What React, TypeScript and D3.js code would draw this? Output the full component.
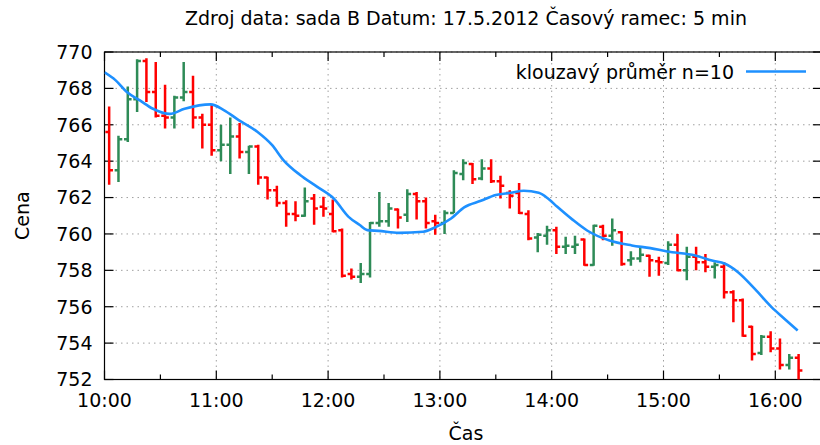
import React from "react";
import * as d3 from "d3";

const title = "Zdroj data: sada B Datum: 17.5.2012 Časový ramec: 5 min";
const xLabel = "Čas";
const yLabel = "Cena";
const legendLabel = "klouzavý průměr n=10";

const times = [
  "10:00","10:05","10:10","10:15","10:20","10:25","10:30","10:35","10:40","10:45","10:50","10:55",
  "11:00","11:05","11:10","11:15","11:20","11:25","11:30","11:35","11:40","11:45","11:50","11:55",
  "12:00","12:05","12:10","12:15","12:20","12:25","12:30","12:35","12:40","12:45","12:50","12:55",
  "13:00","13:05","13:10","13:15","13:20","13:25","13:30","13:35","13:40","13:45","13:50","13:55",
  "14:00","14:05","14:10","14:15","14:20","14:25","14:30","14:35","14:40","14:45","14:50","14:55",
  "15:00","15:05","15:10","15:15","15:20","15:25","15:30","15:35","15:40","15:45","15:50","15:55",
  "16:00","16:05","16:10",
];
const opens = [
  765.6,763.5,765.2,767.4,769.5,767.8,766.5,766.4,767.5,767.8,766.4,766.0,
  764.6,764.9,765.35,764.5,764.8,763.1,762.4,761.7,761.1,761.0,761.95,761.5,
  761.1,760.2,757.8,757.65,757.8,760.6,760.7,761.35,761.05,762.2,761.8,760.7,
  760.6,761.15,763.3,763.85,763.05,763.6,762.9,762.25,762.25,761.1,759.8,759.9,
  760.2,759.3,759.3,759.7,758.3,760.4,759.9,760.1,758.55,758.65,758.8,758.5,
  758.4,759.4,758.0,758.75,758.45,758.2,758.2,756.8,756.35,754.9,753.45,754.35,
  753.7,752.8,753.2,
];
const highs = [
  767.0,765.4,768.1,769.6,769.65,769.45,768.2,767.6,769.45,768.7,766.6,767.1,
  766.0,766.4,766.1,764.85,764.9,763.15,762.65,761.85,761.8,762.55,762.2,762.05,
  761.9,760.3,758.1,758.4,760.65,762.3,761.7,761.4,762.45,762.3,762.0,761.05,
  761.3,763.5,764.1,763.9,764.1,764.1,763.2,762.4,762.8,761.3,760.05,760.45,
  760.4,759.85,759.9,759.75,760.5,760.5,760.85,760.15,759.05,759.25,758.85,758.75,
  759.6,760.0,759.3,759.3,758.9,758.45,758.45,756.9,756.45,754.95,754.45,754.65,
  754.25,753.4,753.4,
];
const lows = [
  762.7,762.85,765.05,766.7,767.25,766.4,765.8,765.8,767.3,765.8,764.7,764.3,
  764.0,763.3,764.15,763.3,762.7,761.9,761.5,760.4,760.7,760.95,760.5,760.95,
  760.1,757.6,757.5,757.3,757.6,760.4,760.4,760.3,760.65,760.8,760.3,759.95,
  760.0,761.15,762.95,762.75,762.95,762.8,761.95,761.4,761.1,759.65,759.0,759.4,
  758.9,758.9,758.9,758.25,758.25,759.65,759.35,758.25,758.25,758.45,757.65,757.7,
  758.3,757.95,757.45,758.0,757.9,757.55,756.45,755.15,754.35,753.05,753.35,753.5,
  752.55,752.55,751.5,
];
const closes = [
  763.5,765.2,767.4,769.5,767.8,766.5,766.4,767.5,767.8,766.4,766.0,764.6,
  764.9,765.35,764.5,764.8,763.1,762.4,761.7,761.1,761.0,761.8,761.4,761.4,
  760.15,757.7,757.65,757.8,760.6,760.7,761.4,760.9,762.2,761.8,760.6,760.6,
  761.15,763.35,763.9,763.0,763.6,762.9,762.65,762.1,761.15,759.75,759.95,760.2,
  759.3,759.35,759.4,758.3,760.45,759.9,760.2,758.35,758.65,758.85,758.55,758.45,
  759.4,758.0,758.75,758.45,758.2,758.3,756.8,756.35,754.4,753.4,754.35,753.7,
  752.8,753.2,752.5,
];

const maTimes = [
  "10:00","10:06","10:12","10:19","10:26","10:35","10:43","10:57","11:04","11:12","11:22","11:30",
  "11:36","11:45","11:54","12:03","12:11","12:17","12:21","12:27","12:38","12:51","12:58","13:06",
  "13:13","13:22","13:30","13:38","13:45","13:53","13:58","14:03","14:11","14:19","14:31","14:43",
  "14:53","15:02","15:17","15:26","15:33","15:40","15:49","15:58","16:05","16:12",
];
const maValues = [
  768.88,768.44,767.8,767.34,766.88,766.6,766.88,767.12,766.81,766.26,765.62,764.88,
  764.06,763.24,762.6,761.95,760.94,760.49,760.21,760.17,760.06,760.12,760.39,760.85,
  761.46,761.82,762.14,762.26,762.37,762.26,761.95,761.49,760.8,760.19,759.64,759.37,
  759.22,759.04,758.82,758.54,758.36,757.9,756.98,755.98,755.33,754.69,
];

const xTickLabels = ["10:00","11:00","12:00","13:00","14:00","15:00","16:00"];
const xMinorTicks = ["10:30","11:30","12:30","13:30","14:30","15:30","16:30"];
const yTicks = [752,754,756,758,760,762,764,766,768,770];

const W = 820, H = 445;
const L = 104.5, T = 52, B = 379.5;
const pxPerHour = 111.8;
const FONT = "DejaVu Sans, sans-serif";
const FS = 19;
const RED = "#ff0000", GREEN = "#2e8b57", BLUE = "#1e90ff";

export default function App() {
  const parse = d3.timeParse("%H:%M");
  const t0 = parse("10:00") as Date;
  const t1 = parse("16:25") as Date;
  const R = L + ((+t1 - +t0) / 3600000) * pxPerHour;
  const x = d3.scaleTime().domain([t0, t1]).range([L, R]);
  const y = d3.scaleLinear().domain([752, 770]).range([B, T]);
  const half = 2.5 * 60000;

  const bars = times.map((t, i) => ({
    cx: x(new Date(+(parse(t) as Date) + half)),
    o: opens[i], h: highs[i], l: lows[i], c: closes[i],
  }));

  const maPts = maTimes.map((t, i) => [x(parse(t) as Date), y(maValues[i])] as [number, number]);
  const line = d3.line().curve(d3.curveMonotoneX)(maPts) || "";

  const grid = "#a0a0a0";
  return (
    <svg width={W} height={H} style={{ position: "absolute", left: 0, top: 0, background: "#fff" }} fontFamily={FONT}>
      <defs>
        <clipPath id="plot"><rect x={L} y={T} width={R - L} height={B - T} /></clipPath>
      </defs>
      {yTicks.map((v) => (
        <line key={"gy" + v} x1={L} x2={R} y1={y(v)} y2={y(v)} stroke={grid} strokeWidth={1} strokeDasharray="1.5,4" />
      ))}
      {xTickLabels.map((t) => (
        <line key={"gx" + t} x1={x(parse(t) as Date)} x2={x(parse(t) as Date)} y1={T} y2={B} stroke={grid} strokeWidth={1} strokeDasharray="1.5,4" />
      ))}
      <rect x={L} y={T} width={R - L} height={B - T} fill="none" stroke="#000" strokeWidth={1.2} />
      {yTicks.map((v) => (
        <g key={"yt" + v}>
          <line x1={L} x2={L + 9} y1={y(v)} y2={y(v)} stroke="#000" strokeWidth={1.2} />
          <line x1={R} x2={R - 9} y1={y(v)} y2={y(v)} stroke="#000" strokeWidth={1.2} />
          <text x={L - 12} y={y(v)} dy="0.36em" textAnchor="end" fontSize={FS} fill="#000">{v}</text>
        </g>
      ))}
      {xTickLabels.map((t) => {
        const xx = x(parse(t) as Date);
        return (
          <g key={"xt" + t}>
            <line x1={xx} x2={xx} y1={B} y2={B - 9} stroke="#000" strokeWidth={1.2} />
            <line x1={xx} x2={xx} y1={T} y2={T + 9} stroke="#000" strokeWidth={1.2} />
            <text x={xx} y={B + 27} textAnchor="middle" fontSize={FS} fill="#000">{t}</text>
          </g>
        );
      })}
      {xMinorTicks.map((t) => {
        const xx = x(parse(t) as Date);
        if (xx > R) return null;
        return (
          <g key={"xm" + t}>
            <line x1={xx} x2={xx} y1={B} y2={B - 5} stroke="#000" strokeWidth={1.2} />
            <line x1={xx} x2={xx} y1={T} y2={T + 5} stroke="#000" strokeWidth={1.2} />
          </g>
        );
      })}
      <g clipPath="url(#plot)">
        {bars.map((b, i) => {
          const col = b.c >= b.o ? GREEN : RED;
          return (
            <g key={"b" + i} stroke={col} strokeWidth={2.5}>
              <line x1={b.cx} x2={b.cx} y1={y(b.h)} y2={y(b.l)} />
              <line x1={b.cx - 3.8} x2={b.cx} y1={y(b.o)} y2={y(b.o)} />
              <line x1={b.cx} x2={b.cx + 3.8} y1={y(b.c)} y2={y(b.c)} />
            </g>
          );
        })}
        <path d={line} fill="none" stroke={BLUE} strokeWidth={2.6} strokeLinejoin="round" />
      </g>
      <text x={734} y={72} dy="0.36em" textAnchor="end" fontSize={FS} fill="#000">{legendLabel}</text>
      <line x1={746} x2={806} y1={71.5} y2={71.5} stroke={BLUE} strokeWidth={2.6} />
      <text x={466} y={18} dy="0.36em" textAnchor="middle" fontSize={FS} fill="#000">{title}</text>
      <text x={466} y={433} dy="0.36em" textAnchor="middle" fontSize={FS} fill="#000">{xLabel}</text>
      <text transform={`translate(22,${(T + B) / 2}) rotate(-90)`} dy="0.36em" textAnchor="middle" fontSize={FS} fill="#000">{yLabel}</text>
    </svg>
  );
}
